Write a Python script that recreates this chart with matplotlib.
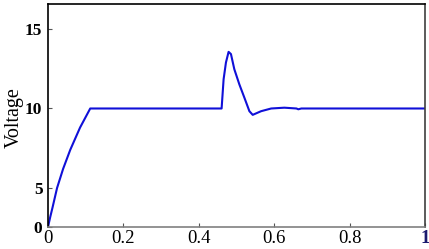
import numpy as np
import matplotlib
matplotlib.use("Agg")
import matplotlib.pyplot as plt

# time [s] and voltage
Time=[0.0,0.006,0.012,0.024,0.04,0.059,0.085,0.112,0.4605,0.4658,0.472,0.479,0.4853,0.4942,0.5075,0.5209,0.5342,0.543,0.5653,0.592,0.627,0.659,0.664,0.672,1.0]
Voltage=[0.0,1.3,2.5,5.0,6.2,7.4,8.8,10.0,10.0,11.84,12.89,13.56,13.42,12.47,11.52,10.68,9.83,9.6,9.83,10.0,10.05,10.0,9.95,10.0,10.0]

XTicks=[0,0.2,0.4,0.6,0.8,1]
XTickLabels=['0','0.2','0.4','0.6','0.8','1']
YTicks=[0,5,10,15]
YTickLabels=['0','5','10','15']

# the lower part of the y axis is squeezed in the original figure
Squeeze=0.49
def forward(y):
    y=np.asarray(y,dtype=float)
    return np.where(y<5,5-(5-y)*Squeeze,y)
def inverse(u):
    u=np.asarray(u,dtype=float)
    return np.where(u<5,5-(5-u)/Squeeze,u)

plt.rcParams["font.family"]=["Liberation Serif","DejaVu Serif"]

fig=plt.figure(figsize=(4.29,2.49),dpi=100)
ax=fig.add_axes([48/429,22/249,377/429,223.5/249])

ax.plot(Time,Voltage,color="#1010d8",linewidth=1.5)

ax.set_yscale('function',functions=(forward,inverse))
ax.set_xlim(0,1)
ax.set_ylim(0,16.6)

ax.set_xticks(XTicks)
ax.set_xticklabels(XTickLabels,fontsize=13.5)
ax.set_yticks(YTicks)
ax.set_yticklabels(YTickLabels,fontsize=12.5,fontweight="bold")
ax.yaxis.set_minor_locator(plt.NullLocator())
ax.tick_params(direction="in",length=3,width=0.8,colors="#555555",labelcolor="black")
ax.tick_params(axis="x",pad=2)
ax.tick_params(axis="y",pad=4)
ax.get_xticklabels()[-1].set_fontweight("bold")
ax.get_xticklabels()[-1].set_color("#1a1a6e")

ax.spines['left'].set_color("black")
ax.spines['top'].set_color("black")
ax.spines['bottom'].set_color("#808080")
ax.spines['right'].set_color("#404040")
for s in ax.spines.values():
    s.set_linewidth(1.2)

ax.set_ylabel("Voltage",fontsize=14.5)
ax.yaxis.set_label_coords(-0.065,0.49)

plt.savefig("out.png",dpi=100)
